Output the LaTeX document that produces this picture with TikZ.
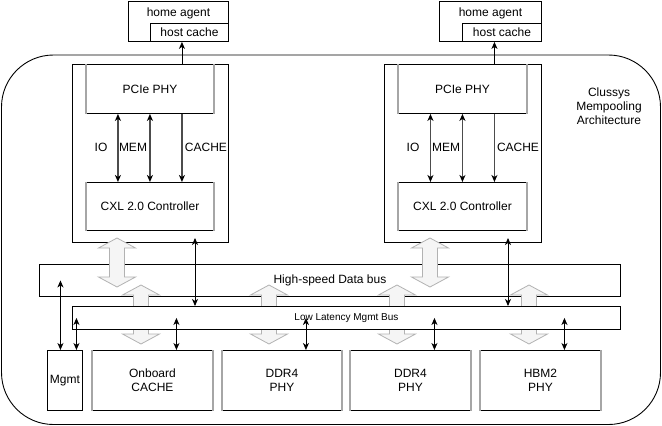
\documentclass[tikz,border=0pt]{standalone}
\usepackage{fontspec}
\setmainfont{Liberation Sans}
\usetikzlibrary{arrows.meta, positioning}

\begin{document}
\begin{tikzpicture}[x=1pt, y=-1pt, line width=0.9pt,
    font=\fontsize{12}{14}\selectfont,
    >={Stealth[length=7pt, width=6pt, inset=2pt, color=black]}]

  % --- Styles ---
  \tikzset{
    box/.style={draw, fill=white, inner sep=0pt, anchor=north west, align=center},
    sideline/.style={draw=gray!70, line width=1.6pt},
    link/.style={<->},
    chiplink/.style={draw=gray!60!black, line width=1.2pt},
    bigarrow/.style={draw=gray!60, fill=gray!8, line width=0.8pt}
  }

  \useasboundingbox (0,0) rectangle (662,426);

  % --- Outer frame ---
  \draw[rounded corners=52pt] (1.5,55) rectangle (660.5,424.5);
  \node[align=center] (title) at (609,106) {Clussys\\Mempooling\\Architecture};

  % --- Hosts ---
  \node[box, minimum width=100pt, minimum height=40pt,
        label={[anchor=center, label distance=-12pt]north:home agent}] (ha1) at (128,1) {};
  \node[box, minimum width=78pt, minimum height=18pt] (hc1) at (150,23) {host cache};
  \node[box, minimum width=102pt, minimum height=40pt,
        label={[anchor=center, label distance=-12pt]north:home agent}] (ha2) at (439,1) {};
  \node[box, minimum width=79pt, minimum height=18pt] (hc2) at (462,23) {host cache};

  % --- CXL chips ---
  \node[box, minimum width=156pt, minimum height=178pt] (chip1) at (72,64) {};
  \node[box, minimum width=127pt, minimum height=49pt] (pcie1) at (86,64) {PCIe PHY};
  \node[box, minimum width=127pt, minimum height=48pt] (cxl1) at (86,182) {CXL 2.0 Controller};

  \node[box, minimum width=157pt, minimum height=178pt] (chip2) at (384,64) {};
  \node[box, minimum width=128pt, minimum height=49pt] (pcie2) at (398,64) {PCIe PHY};
  \node[box, minimum width=128pt, minimum height=48pt] (cxl2) at (398,182) {CXL 2.0 Controller};

  % PHY <-> controller channels
  \draw[chiplink, <->] ([xshift=-32pt]pcie1.south) -- ([xshift=-32pt]cxl1.north);
  \draw[chiplink, <->] (pcie1.south) -- (cxl1.north);
  \draw[chiplink, ->] ([xshift=32pt]pcie1.south) -- ([xshift=32pt]cxl1.north);
  \draw[chiplink, <->] ([xshift=-32pt]pcie2.south) -- ([xshift=-32pt]cxl2.north);
  \draw[chiplink, <->] (pcie2.south) -- (cxl2.north);
  \draw[chiplink, ->] ([xshift=32pt]pcie2.south) -- ([xshift=32pt]cxl2.north);

  \node (io1) at (101,147) {IO};
  \node (mem1) at (133,147) {MEM};
  \node (cache1) at (206,147) {CACHE};
  \node (io2) at (413,147) {IO};
  \node (mem2) at (446,147) {MEM};
  \node (cache2) at (518,147) {CACHE};

  % chip -> host cache
  \draw[->] ([xshift=32pt]pcie1.north) -- ([xshift=32pt]pcie1.north |- hc1.south);
  \draw[->] ([xshift=32pt]pcie2.north) -- ([xshift=32pt]pcie2.north |- hc2.south);

  % --- Buses ---
  \node[box, minimum width=581pt, minimum height=32pt] (hsbus) at (39,264) {High-speed Data bus};

  % wide data paths
  \foreach \x/\t/\b in {117/238/287, 430/238/287, 141/285/344, 269/285/344, 397/285/344, 529/285/344}
    \draw[bigarrow] (\x,\t) -- (\x+18.5,\t+10) -- (\x+7.5,\t+10) -- (\x+7.5,\b-10)
      -- (\x+18.5,\b-10) -- (\x,\b) -- (\x-18.5,\b-10) -- (\x-7.5,\b-10)
      -- (\x-7.5,\t+10) -- (\x-18.5,\t+10) -- cycle;

  \node[box, minimum width=548pt, minimum height=23pt, font=\fontsize{10}{12}\selectfont] (llbus) at (72,306) {Low Latency Mgmt Bus};

  % --- Memory side ---
  \node[box, minimum width=35pt, minimum height=60pt] (mgmt) at (47,350) {Mgmt};
  \node[box, minimum width=120pt, minimum height=60pt] (onboard) at (92,350) {Onboard\\CACHE};
  \node[box, minimum width=119pt, minimum height=60pt] (ddr1) at (222,350) {DDR4\\PHY};
  \node[box, minimum width=120pt, minimum height=60pt] (ddr2) at (350,350) {DDR4\\PHY};
  \node[box, minimum width=120pt, minimum height=60pt] (hbm) at (480,350) {HBM2\\PHY};

  \foreach \n in {pcie1, cxl1, pcie2, cxl2, onboard, ddr1, ddr2, hbm}
    \draw[sideline] (\n.north west) -- (\n.south west) (\n.north east) -- (\n.south east);

  % --- Management links ---
  \coordinate (tap1) at (195,238);
  \coordinate (tap2) at (508,238);
  \draw[link] (tap1) -- (tap1 |- llbus.north);
  \draw[link] (tap2) -- (tap2 |- llbus.north);

  \draw[link] ([xshift=-4.5pt]mgmt.north) -- ([xshift=-4.5pt]mgmt.north |- hsbus.center);
  \draw[link] ([xshift=11.5pt]mgmt.north) -- ([xshift=11.5pt]mgmt.north |- llbus.center);
  \foreach \n in {onboard, ddr1, ddr2, hbm}
    \draw[link] ([xshift=24pt]\n.north) -- ([xshift=24pt]\n.north |- llbus.center);

\end{tikzpicture}
\end{document}
